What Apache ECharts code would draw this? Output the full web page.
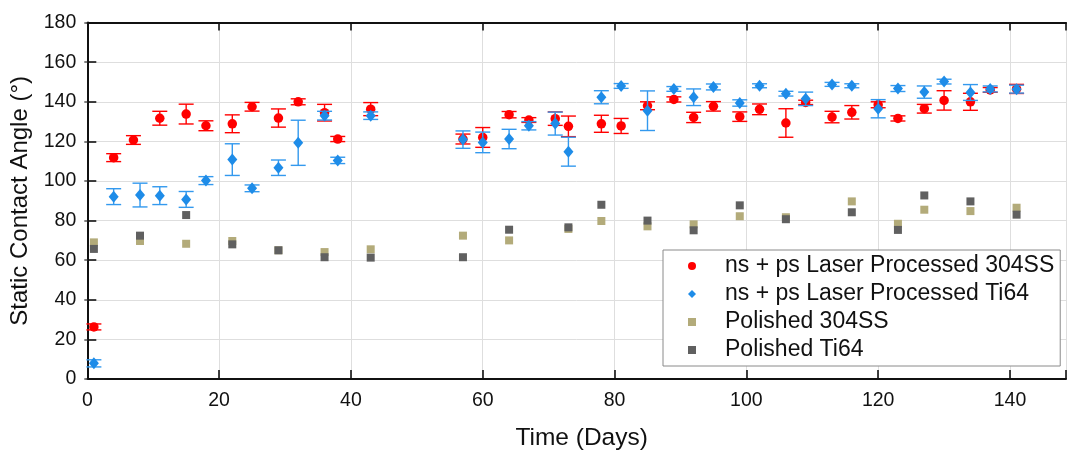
<!DOCTYPE html>
<html>
<head>
<meta charset="utf-8">
<script src="https://cdn.jsdelivr.net/npm/echarts@6/dist/echarts.min.js"></script>
<style>
html,body{margin:0;padding:0;background:#fff;}
#chart{width:1067px;height:451px;}
</style>
</head>
<body>
<div id="chart"></div>
<script>
// ---- data ----
var seriesNames = ['ns + ps Laser Processed 304SS', 'ns + ps Laser Processed Ti64', 'Polished 304SS', 'Polished Ti64'];

var ss304Days = [1,4,7,11,15,18,22,25,29,32,36,38,43,57,60,64,67,71,73,78,81,85,89,92,95,99,102,106,109,113,116,120,123,127,130,134,137,141];
var ss304Mean = [26.3,111.8,120.7,131.7,133.8,127.9,128.9,137.5,131.8,140,134.5,121.2,136.3,121.2,122,133.5,130.8,131.5,127.6,128.9,127.8,138,141.2,132.1,137.7,132.5,136.2,129.3,139.7,132.3,134.7,138.5,131.6,136.5,140.7,140,146,146.5];
var ss304Err  = [1.5,2,2.2,3.5,5,2.5,4.5,2.2,4.6,1.5,4.2,1.3,3.3,2.5,5,1.6,1.2,3.4,5.2,4.3,3.8,2,1.3,2.6,2.4,2.4,2.7,7.2,1.1,2.9,3.4,1.5,1.3,2.2,4.9,4.3,1.2,2.3];

var ti64Days = [1,4,8,11,15,18,22,25,29,32,36,38,43,57,60,64,67,71,73,78,81,85,89,92,95,99,102,106,109,113,116,120,123,127,130,134,137,141];
var ti64Mean = [7.9,92.1,92.9,92.6,90.7,100.2,110.8,96.3,106.7,119.3,133,110.4,133,120.9,119.5,121.2,127.9,129,114.8,142.3,148,135.5,146.5,142.3,147.5,139.4,148.1,144.1,141.5,148.8,148.1,136.5,146.7,144.9,150.2,144.7,146.5,146.4];
var ti64Err  = [1.8,4,6,4.5,4,2,8,1.7,3.9,11.4,2.2,1.6,1.9,4.4,5.2,4.9,2.1,5.8,7.3,3.3,1.2,10,1.2,4.2,1.5,1.6,1,1.2,3.4,1,1,4.6,1.5,3.1,1.2,4,1.5,2];

var polishedDays = [1,8,15,22,29,36,43,57,64,73,78,85,92,99,106,116,123,127,134,141];
var polished304 = [69,69.7,68.3,69.7,65,64.1,65.5,72.4,70,75.8,79.8,77.1,78.1,82.2,81.7,89.7,78.4,85.5,84.8,86.5];
var polishedTi64 = [65.7,72.4,82.8,68,65,61.5,61.3,61.5,75.4,76.6,88,80,75.1,87.7,80.7,84.2,75.3,92.7,89.7,83];

var yTicks = [0,20,40,60,80,100,120,140,160,180];

// ---- build series data ----
function pts(days, vals){ return days.map(function(d,i){ return [d, vals[i]]; }); }
function errs(days, vals, e){ return days.map(function(d,i){ return [d, vals[i]-e[i], vals[i]+e[i]]; }); }

function errRender(color){
  return function(params, api){
    var x = api.value(0), lo = api.value(1), hi = api.value(2);
    var a = api.coord([x, lo]), b = api.coord([x, hi]);
    var hw = 7.5;
    var st = {stroke: color, lineWidth: 1.4, fill: null};
    return {type:'group', children:[
      {type:'line', shape:{x1:a[0], y1:a[1], x2:b[0], y2:b[1]}, style:st},
      {type:'line', shape:{x1:a[0]-hw, y1:a[1], x2:a[0]+hw, y2:a[1]}, style:st},
      {type:'line', shape:{x1:b[0]-hw, y1:b[1], x2:b[0]+hw, y2:b[1]}, style:st}
    ]};
  };
}

var FONT = 'Arial, "Liberation Sans", Helvetica, sans-serif';
var RED = '#ff0000', BLUE = '#1e8ce8', TAN = '#b3ab7a', GREY = '#606060';

var chart = echarts.init(document.getElementById('chart'), null, {renderer:'canvas'});
chart.setOption({
  animation: false,
  backgroundColor: '#ffffff',
  textStyle: {fontFamily: FONT},
  grid: {left: 87.3, right: 1, top: 22.6, bottom: 72, containLabel: false, outerBoundsMode: 'none'},
  legend: {
    data: seriesNames,
    orient: 'vertical',
    left: 663, top: 250,
    padding: [4, 6, 4, 25],
    itemWidth: 8, itemHeight: 8, itemGap: 4,
    backgroundColor: '#ffffff',
    borderColor: '#8a8a8a', borderWidth: 1,
    textStyle: {fontSize: 23, color: '#111', fontFamily: FONT, lineHeight: 24, padding: [0,0,0,24]},
    selectedMode: false
  },
  xAxis: [{
    type: 'value', min: 0, max: 148.5, interval: 20,
    name: 'Time (Days)', nameLocation: 'middle', nameGap: 47,
    nameTextStyle: {fontSize: 24.5, color: '#111', fontFamily: FONT, padding: [0,0,0,10]},
    axisLine: {show: true, onZero: false, lineStyle: {color: '#111', width: 2}},
    axisTick: {show: true, inside: true, length: 9, lineStyle: {color: '#111', width: 1.6}},
    axisLabel: {fontSize: 19.5, color: '#111', margin: 12, fontFamily: FONT,
      formatter: function(v){ return (v % 20 === 0) ? String(v) : ''; }},
    splitLine: {show: true, lineStyle: {color: '#dedede', width: 1}},
    minorTick: {show: false}
  },{
    type: 'value', position: 'top', min: 0, max: 148.5, interval: 20,
    axisLine: {show: true, onZero: false, lineStyle: {color: '#111', width: 2}},
    axisTick: {show: true, inside: true, length: 8, lineStyle: {color: '#111', width: 1.6}},
    axisLabel: {show: false}, splitLine: {show: false}
  }],
  yAxis: [{
    type: 'value', min: 0, max: 180, interval: 20,
    name: 'Static Contact Angle (°)', nameLocation: 'middle', nameGap: 47,
    nameTextStyle: {fontSize: 24, color: '#111', fontFamily: FONT},
    axisLine: {show: true, onZero: false, lineStyle: {color: '#111', width: 2}},
    axisTick: {show: true, inside: true, length: 9, lineStyle: {color: '#111', width: 1.6}},
    axisLabel: {fontSize: 19.5, color: '#111', margin: 11, fontFamily: FONT,
      formatter: function(v){ return yTicks.indexOf(v) >= 0 ? String(v) : ''; }},
    splitLine: {show: true, lineStyle: {color: '#dedede', width: 1}}
  },{
    type: 'value', position: 'right', min: 0, max: 180, interval: 20,
    axisLine: {show: false},
    axisTick: {show: true, inside: true, length: 3, lineStyle: {color: '#555', width: 1.5}},
    axisLabel: {show: false}, splitLine: {show: false}
  }],
  series: [
    {name: seriesNames[2], type: 'scatter', symbol: 'rect', symbolSize: 8,
     itemStyle: {color: TAN, opacity: 1}, data: pts(polishedDays, polished304), z: 2},
    {name: seriesNames[3], type: 'scatter', symbol: 'rect', symbolSize: 8,
     itemStyle: {color: GREY, opacity: 1}, data: pts(polishedDays, polishedTi64), z: 2},
    {name: 'err304', type: 'custom', renderItem: errRender(RED),
     encode: {x: 0, y: [1, 2]}, data: errs(ss304Days, ss304Mean, ss304Err), z: 3, silent: true},
    {name: seriesNames[0], type: 'scatter', symbol: 'circle', symbolSize: 9.5,
     itemStyle: {color: RED, opacity: 1}, data: pts(ss304Days, ss304Mean), z: 3},
    {name: 'errTi', type: 'custom', renderItem: errRender('#3399ee'),
     encode: {x: 0, y: [1, 2]}, data: errs(ti64Days, ti64Mean, ti64Err), z: 4, silent: true},
    {name: seriesNames[1], type: 'scatter', symbol: 'diamond', symbolSize: [10, 12],
     itemStyle: {color: BLUE, opacity: 1}, data: pts(ti64Days, ti64Mean), z: 4}
  ]
});
</script>
</body>
</html>
